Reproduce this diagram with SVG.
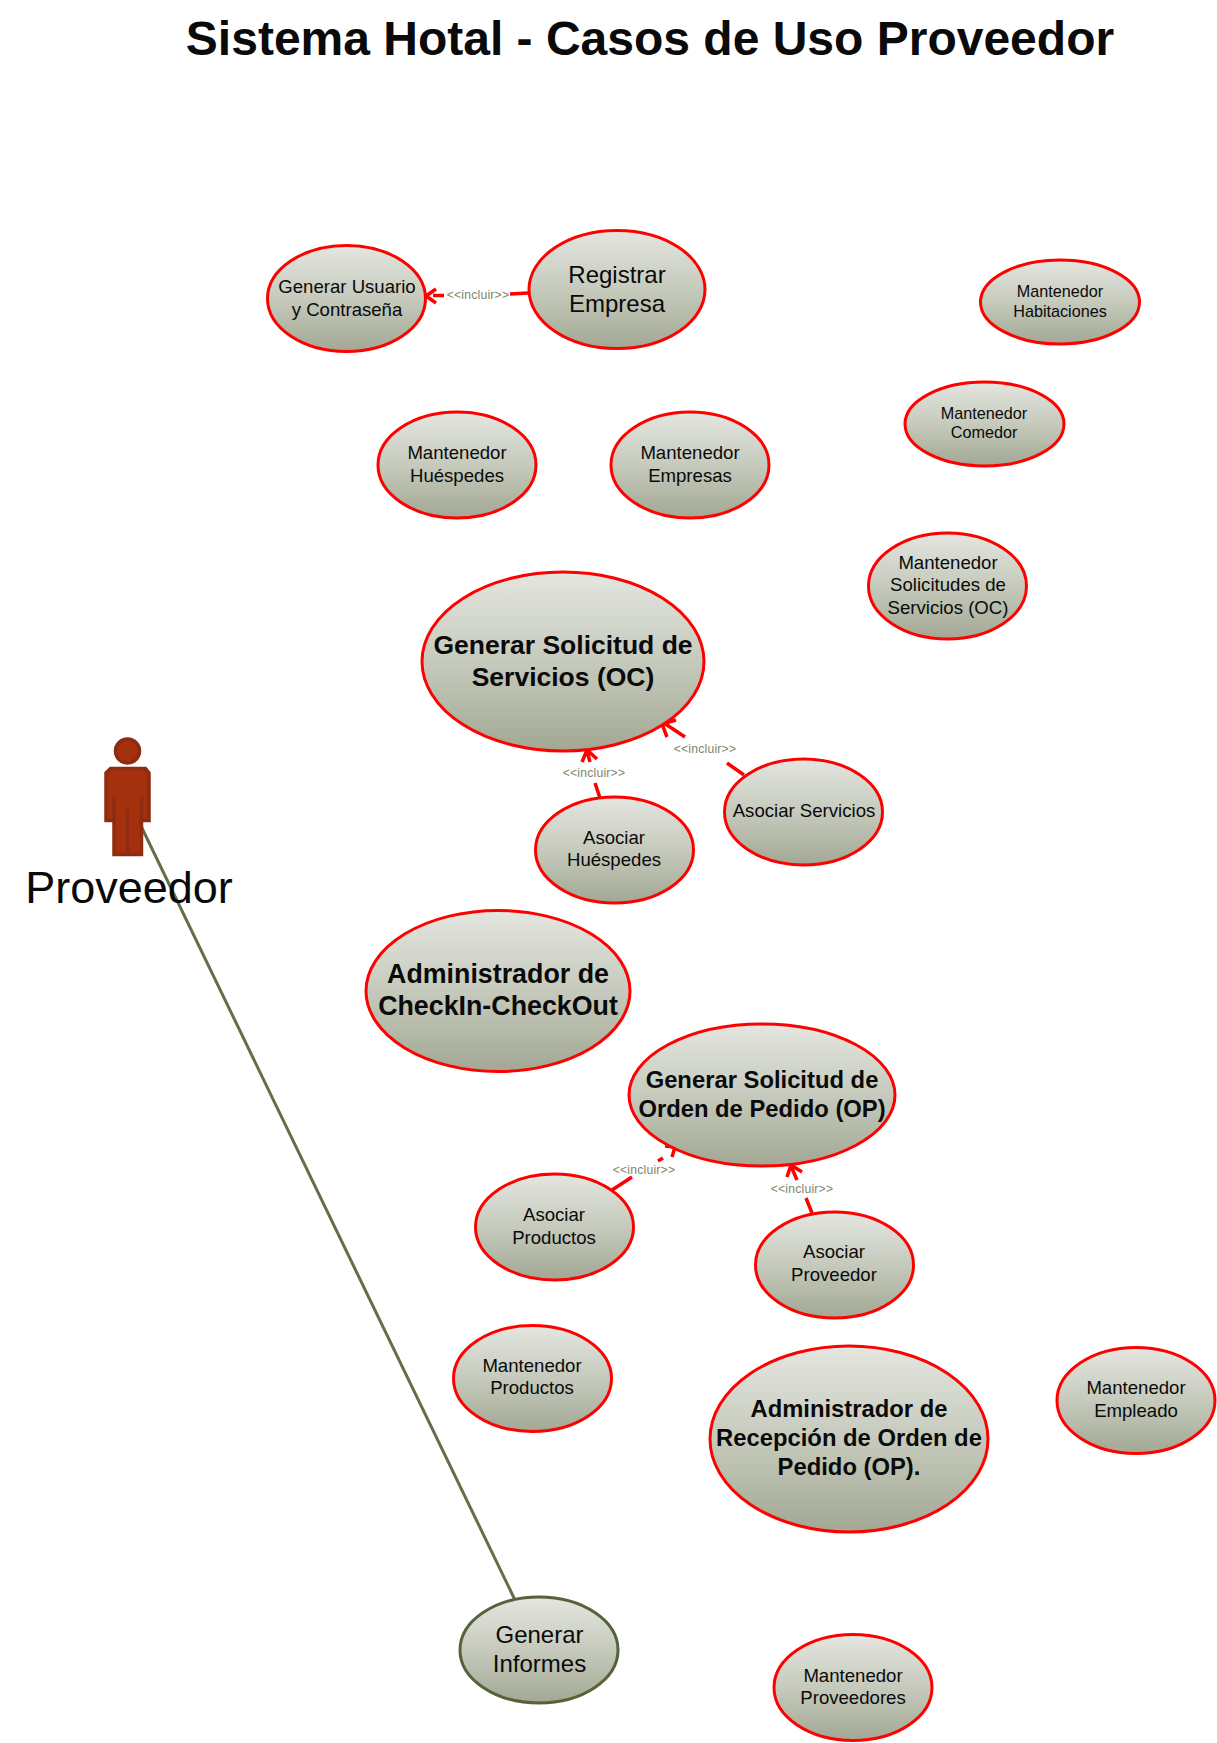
<svg xmlns="http://www.w3.org/2000/svg" width="1217" height="1743" viewBox="0 0 1217 1743">
<style>
text{font-family:"Liberation Sans",Arial,sans-serif;fill:#0a0a0a;text-anchor:middle}
.u{fill:url(#g);stroke:#f00;stroke-width:3}
.i{stroke:#566338}
.c{fill:none;stroke:#f00;stroke-width:3.500}
.l{font-size:12.200px;fill:#7d8668;letter-spacing:.2px}
.s{font-size:16.200px}.m{font-size:18.600px}.r{font-size:24px}
.b{font-weight:bold}
</style>
<defs><linearGradient id="g" x1="0" y1="0" x2="0" y2="1"><stop offset="0" stop-color="#e4e6e0"/><stop offset=".5" stop-color="#c6cabc"/><stop offset="1" stop-color="#a2a894"/></linearGradient></defs>
<rect width="1217" height="1743" fill="#fff"/>
<text x="650" y="55" font-size="48" class="b">Sistema Hotal - Casos de Uso Proveedor</text>
<g id="connectors">
<path d="M141 826L515 1600" fill="none" stroke="#636f47" stroke-width="3"/>
<path class="c" d="M528 293L510 294M444 295.500H433M436 289L426 296L436 303"/>
<path class="c" d="M744 775L727 763M685 737L664 723M667 737L662 724L676 720"/>
<path class="c" d="M600 798L595 783M590 762L587 751M582 762L587 750L597 759"/>
<path class="c" d="M612 1190L632 1177M658 1161L663 1158M672 1157L675 1147L665 1146"/>
<path class="c" d="M812 1213L806 1198M797 1180L791 1166M787 1177L791 1165L802 1172"/>
</g>
<g><text class="l" x="478" y="299">&lt;&lt;incluir&gt;&gt;</text>
<text class="l" x="705" y="753">&lt;&lt;incluir&gt;&gt;</text>
<text class="l" x="594" y="777">&lt;&lt;incluir&gt;&gt;</text>
<text class="l" x="644" y="1174">&lt;&lt;incluir&gt;&gt;</text>
<text class="l" x="802" y="1193">&lt;&lt;incluir&gt;&gt;</text></g>
<g id="actor-proveedor">
<circle cx="127.500" cy="751" r="12" fill="#a4300d" stroke="#8e2c10" stroke-width="3.500"/>
<path d="M110.500 768.500H145.500L149 773V820.500H141.500V854.500H114V820.500H106V773Z" fill="#a4300d" stroke="#8e2c10" stroke-width="3.500"/>
<path d="M114 797V821M141.500 797V821M127.500 809V853" stroke="#8e2c10" stroke-width="3.500" fill="none"/>
<text x="129" y="903" font-size="45">Proveedor</text>
</g>
<g id="n1"><ellipse class="u" cx="346.500" cy="298.500" rx="79" ry="53"/><text class="m" x="347" y="293">Generar Usuario</text><text class="m" x="347" y="316">y Contraseña</text></g>
<g id="n2"><ellipse class="u" cx="617" cy="289.500" rx="88" ry="59"/><text class="r" x="617" y="283">Registrar</text><text class="r" x="617" y="312">Empresa</text></g>
<g id="n3"><ellipse class="u" cx="1060" cy="302" rx="79.500" ry="42"/><text class="s" x="1060" y="297">Mantenedor</text><text class="s" x="1060" y="317">Habitaciones</text></g>
<g id="n4"><ellipse class="u" cx="984.500" cy="424" rx="79.500" ry="42"/><text class="s" x="984" y="419">Mantenedor</text><text class="s" x="984" y="438">Comedor</text></g>
<g id="n5"><ellipse class="u" cx="457" cy="465" rx="79" ry="53"/><text class="m" x="457" y="459">Mantenedor</text><text class="m" x="457" y="482">Huéspedes</text></g>
<g id="n6"><ellipse class="u" cx="690" cy="465" rx="79" ry="53"/><text class="m" x="690" y="459">Mantenedor</text><text class="m" x="690" y="482">Empresas</text></g>
<g id="n7"><ellipse class="u" cx="947.500" cy="586" rx="79" ry="53"/><text class="m" x="948" y="569">Mantenedor</text><text class="m" x="948" y="591">Solicitudes de</text><text class="m" x="948" y="614">Servicios (OC)</text></g>
<g id="n8"><ellipse class="u" cx="563" cy="661.500" rx="141" ry="89.500"/><text class="b" x="563" y="654" style="font-size:26.500px">Generar Solicitud de</text><text class="b" x="563" y="686" style="font-size:26.500px">Servicios (OC)</text></g>
<g id="n9"><ellipse class="u" cx="803.500" cy="812" rx="79" ry="53"/><text class="m" x="804" y="817">Asociar Servicios</text></g>
<g id="n10"><ellipse class="u" cx="614.500" cy="850" rx="79" ry="53"/><text class="m" x="614" y="844">Asociar</text><text class="m" x="614" y="866">Huéspedes</text></g>
<g id="n11"><ellipse class="u" cx="498" cy="991" rx="132" ry="80.500"/><text class="b" x="498" y="983" style="font-size:26.800px">Administrador de</text><text class="b" x="498" y="1015" style="font-size:26.800px">CheckIn-CheckOut</text></g>
<g id="n12"><ellipse class="u" cx="762" cy="1095" rx="133" ry="71"/><text class="b" x="762" y="1088" style="font-size:23.800px">Generar Solicitud de</text><text class="b" x="762" y="1117" style="font-size:23.800px">Orden de Pedido (OP)</text></g>
<g id="n13"><ellipse class="u" cx="554.500" cy="1227" rx="79" ry="53"/><text class="m" x="554" y="1221">Asociar</text><text class="m" x="554" y="1244">Productos</text></g>
<g id="n14"><ellipse class="u" cx="834.500" cy="1265" rx="79" ry="53"/><text class="m" x="834" y="1258">Asociar</text><text class="m" x="834" y="1281">Proveedor</text></g>
<g id="n15"><ellipse class="u" cx="532.500" cy="1378.500" rx="79" ry="53"/><text class="m" x="532" y="1372">Mantenedor</text><text class="m" x="532" y="1394">Productos</text></g>
<g id="n16"><ellipse class="u" cx="849" cy="1439" rx="139" ry="93"/><text class="b" x="849" y="1417" style="font-size:23.800px">Administrador de</text><text class="b" x="849" y="1446" style="font-size:23.800px">Recepción de Orden de</text><text class="b" x="849" y="1475" style="font-size:23.800px">Pedido (OP).</text></g>
<g id="n17"><ellipse class="u" cx="1136" cy="1400.500" rx="79" ry="53"/><text class="m" x="1136" y="1394">Mantenedor</text><text class="m" x="1136" y="1417">Empleado</text></g>
<g id="n18"><ellipse class="u i" cx="539" cy="1650" rx="79" ry="53"/><text class="r" x="539.500" y="1643">Generar</text><text class="r" x="539.500" y="1672">Informes</text></g>
<g id="n19"><ellipse class="u" cx="853" cy="1687.500" rx="79" ry="53"/><text class="m" x="853" y="1682">Mantenedor</text><text class="m" x="853" y="1704">Proveedores</text></g>
</svg>
